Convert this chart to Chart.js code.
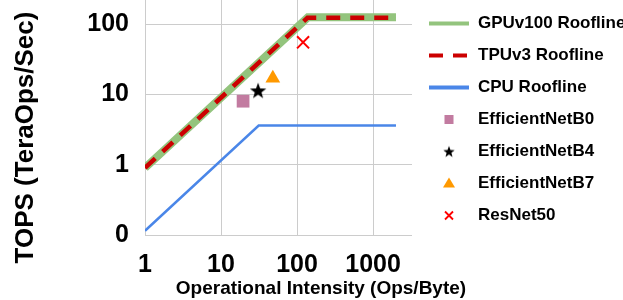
<!DOCTYPE html>
<html lang="en">
<head>
<meta charset="UTF-8">
<title>Roofline - TOPS vs Operational Intensity</title>
<script src="https://cdn.jsdelivr.net/npm/chart.js"></script>
<style>
  html, body { margin: 0; padding: 0; background: #fff; }
</style>
</head>
<body>
<canvas id="roofChart" width="623" height="300"></canvas>
<script>
// Roofline values: x = Ops/Byte, y = TOPS
const gpuX = [1, 139, 2000];
const gpuY = [0.9, 125, 125];
const tpuX = [1, 137, 2000];
const tpuY = [0.9, 123, 123];
const cpuX = [1, 31.3, 2000];
const cpuY = [0.115, 3.6, 3.6];

// Measured models
const modelNames = ['EfficientNetB0', 'EfficientNetB4', 'EfficientNetB7', 'ResNet50'];
const modelX = [19.5, 30.7, 48, 120];
const modelY = [8, 11.4, 17, 55];

const xTicks = [1, 10, 100, 1000];
const yTicks = [0.1, 1, 10, 100];

const FONT = '"Liberation Sans", Arial, sans-serif';

const toPts = (xs, ys) => xs.map((x, i) => ({ x: x, y: ys[i] }));

// filled 5 point star, used as point style
function makeStar(size, outer, inner, color) {
    const c = document.createElement('canvas');
    c.width = size;
    c.height = size;
    const g = c.getContext('2d');
    g.fillStyle = color;
    g.beginPath();
    for (let i = 0; i < 10; i++) {
        const r = i % 2 ? inner : outer;
        const a = -Math.PI / 2 + i * Math.PI / 5;
        g.lineTo(size / 2 + r * Math.cos(a), size / 2 + r * Math.sin(a) + outer * 0.1);
    }
    g.closePath();
    g.fill();
    return c;
}

const starBig = makeStar(20, 8.6, 3.5, '#000000');
const starSmall = makeStar(14, 6, 2.5, '#000000');

const lineColors = ['#93c47d', '#cc0000', '#4a86e8'];
const markerColors = ['#c27ba0', '#000000', '#ff9900', '#ff0000'];

// axis titles and legend are drawn here so they sit where the original has them
const titlesAndLegend = {
    id: 'titlesAndLegend',
    afterDraw(chart) {
        const ctx = chart.ctx;
        ctx.save();
        ctx.fillStyle = '#000';
        ctx.textAlign = 'center';
        ctx.textBaseline = 'alphabetic';
        ctx.font = 'bold 19px ' + FONT;
        ctx.fillText('Operational Intensity (Ops/Byte)', 321, 293.5);
        ctx.translate(32.5, 137.5);
        ctx.rotate(-Math.PI / 2);
        ctx.font = 'bold 26px ' + FONT;
        ctx.fillText('TOPS (TeraOps/Sec)', 0, 0);
        ctx.restore();

        // legend
        const sx = 429, ex = 469, mx = 449, tx = 478;
        chart.data.datasets.forEach((ds, i) => {
            const y = 23.5 + 32 * i;
            ctx.save();
            if (ds.showLine) {
                ctx.strokeStyle = ds.borderColor;
                ctx.lineWidth = 4;
                ctx.setLineDash(ds.borderDash || []);
                ctx.beginPath();
                ctx.moveTo(sx, y);
                ctx.lineTo(ex, y);
                ctx.stroke();
            } else if (ds.pointStyle === 'rect') {
                ctx.fillStyle = ds.backgroundColor;
                ctx.fillRect(mx - 4.5, y - 4.5, 9, 9);
            } else if (ds.pointStyle === 'triangle') {
                ctx.fillStyle = ds.backgroundColor;
                ctx.beginPath();
                ctx.moveTo(mx, y - 6);
                ctx.lineTo(mx + 6, y + 4);
                ctx.lineTo(mx - 6, y + 4);
                ctx.closePath();
                ctx.fill();
            } else if (ds.pointStyle === 'crossRot') {
                ctx.strokeStyle = ds.borderColor;
                ctx.lineWidth = 1.8;
                ctx.beginPath();
                ctx.moveTo(mx - 4, y - 4);
                ctx.lineTo(mx + 4, y + 4);
                ctx.moveTo(mx + 4, y - 4);
                ctx.lineTo(mx - 4, y + 4);
                ctx.stroke();
            } else {
                ctx.drawImage(starSmall, mx - 7, y - 7);
            }
            ctx.fillStyle = '#000';
            ctx.font = 'bold 17px ' + FONT;
            ctx.textAlign = 'left';
            ctx.textBaseline = 'middle';
            ctx.fillText(ds.label, tx, y);
            ctx.restore();
        });
    }
};

const tickFont = { family: FONT, size: 25, weight: 'bold' };

// keep the plot area fixed: no extra room for end labels
function fixPadding(s) {
    s.paddingTop = 0;
    s.paddingBottom = 0;
    s.paddingLeft = 0;
    s.paddingRight = 0;
}

const ctx = document.getElementById('roofChart').getContext('2d');
const chart = new Chart(ctx, {
    type: 'scatter',
    data: {
        datasets: [
            {
                label: 'GPUv100 Roofline',
                data: toPts(gpuX, gpuY),
                showLine: true,
                borderColor: lineColors[0],
                borderWidth: 8,
                pointRadius: 0,
                order: 3
            },
            {
                label: 'TPUv3 Roofline',
                data: toPts(tpuX, tpuY),
                showLine: true,
                borderColor: lineColors[1],
                borderWidth: 4.5,
                borderDash: [14, 10],
                pointRadius: 0,
                order: 2
            },
            {
                label: 'CPU Roofline',
                data: toPts(cpuX, cpuY),
                showLine: true,
                borderColor: lineColors[2],
                borderWidth: 2.5,
                pointRadius: 0,
                order: 1
            },
            {
                label: modelNames[0],
                data: [{ x: modelX[0], y: modelY[0] }],
                pointStyle: 'rect',
                pointRadius: 9,
                backgroundColor: markerColors[0],
                borderWidth: 0,
                order: 0
            },
            {
                label: modelNames[1],
                data: [{ x: modelX[1], y: modelY[1] }],
                pointStyle: starBig,
                pointRadius: 8,
                backgroundColor: markerColors[1],
                borderWidth: 0,
                order: 0
            },
            {
                label: modelNames[2],
                data: [{ x: modelX[2], y: modelY[2] }],
                pointStyle: 'triangle',
                pointRadius: 8.5,
                backgroundColor: markerColors[2],
                borderWidth: 0,
                order: 0
            },
            {
                label: modelNames[3],
                data: [{ x: modelX[3], y: modelY[3] }],
                pointStyle: 'crossRot',
                pointRadius: 8.5,
                borderColor: markerColors[3],
                borderWidth: 2,
                order: 0
            }
        ]
    },
    options: {
        responsive: false,
        animation: false,
        layout: { autoPadding: false, padding: { left: 0, right: 211, top: 0, bottom: 0 } },
        plugins: {
            legend: { display: false },
            tooltip: { enabled: false }
        },
        scales: {
            x: {
                type: 'logarithmic',
                min: 1,
                max: 3250,
                afterBuildTicks: s => { s.ticks = xTicks.map(v => ({ value: v })); },
                afterFit: s => { s.height = 65; fixPadding(s); },
                grid: { color: '#cccccc', drawTicks: false },
                border: { display: false },
                ticks: {
                    padding: 15,
                    color: '#000',
                    font: tickFont,
                    autoSkip: false,
                    maxRotation: 0,
                    callback: v => String(v)
                }
            },
            y: {
                type: 'logarithmic',
                min: 0.1,
                max: 220,
                afterBuildTicks: s => { s.ticks = yTicks.map(v => ({ value: v })); },
                afterFit: s => { s.width = 145; fixPadding(s); },
                grid: { color: '#cccccc', drawTicks: false },
                border: { display: false },
                ticks: {
                    padding: 16,
                    color: '#000',
                    font: tickFont,
                    autoSkip: false,
                    callback: v => String(Math.round(v))
                }
            }
        }
    },
    plugins: [titlesAndLegend]
});
</script>
</body>
</html>
